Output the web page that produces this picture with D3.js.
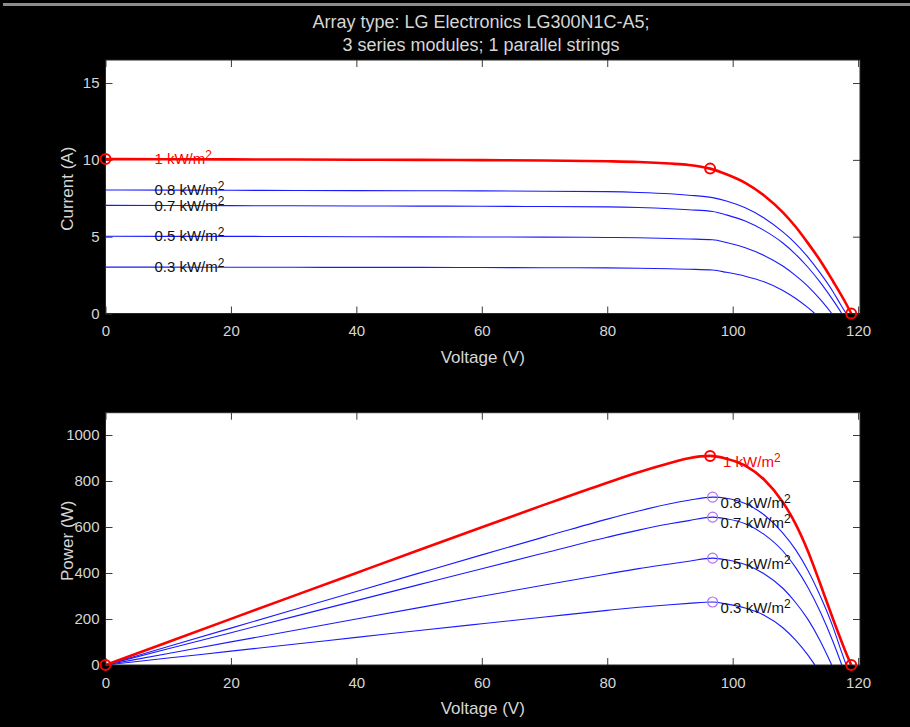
<!DOCTYPE html>
<html><head><meta charset="utf-8">
<script src="https://cdn.jsdelivr.net/npm/d3@7"></script>
<style>body{margin:0;background:#000;} svg{display:block;}</style>
</head><body>
<svg id="chart" width="910" height="727"></svg>
<script>
// ---------- data ----------
const titleLines = ["Array type: LG Electronics LG300N1C-A5;", "3 series modules; 1 parallel strings"];
const seriesNames = ["1", "0.8", "0.7", "0.5", "0.3"];

const voltage1000 = [0,10,20,30,40,50,60,70,80,85,90,93,96.4,99,102,105,108,110,112,114,116,118,118.9];
const current1000 = [10.05,10.04,10.03,10.02,10.01,10.00,9.98,9.96,9.91,9.86,9.76,9.67,9.43,9.06,8.50,7.68,6.58,5.66,4.58,3.42,2.10,0.70,0];
const power1000   = [0,100.4,200.6,300.6,400.4,500,598.8,697.2,792.8,838.1,878.4,899.3,909.1,896.9,867,806.4,708,615,495,350,200,58,0];

const voltage800 = [0,10,20,30,40,50,60,70,80,85,90,93,96.8,99,102,105,108,110,112,114,116,117.2,118.1];
const current800 = [8.04,8.03,8.02,8.01,8.00,7.99,7.98,7.96,7.93,7.88,7.79,7.70,7.54,7.32,6.88,6.22,5.31,4.57,3.67,2.61,1.42,0.59,0];
const power800   = [0,80.3,160.4,240.3,320,399.5,478.8,557.2,634.4,669.8,701.1,716.1,729.9,724.7,701.8,653.1,573.5,502.7,411.0,297.5,164.7,69.1,0];

const voltage700 = [0,10,20,30,40,50,60,70,80,85,90,93,96.8,99,102,105,108,110,112,114,116,117.4];
const current700 = [7.04,7.03,7.02,7.01,7.00,6.99,6.98,6.96,6.94,6.90,6.82,6.75,6.64,6.42,6.02,5.41,4.59,3.87,3.01,2.01,0.87,0];
const power700   = [0,70.3,140.4,210.3,280,349.5,418.8,487.2,555.2,586.5,613.8,627.8,642.8,635.6,614.0,568.1,495.7,425.7,337.1,229.1,100.9,0];

const voltage500 = [0,10,20,30,40,50,60,70,80,85,90,93,96.8,99,102,105,108,110,112,114,115.8];
const current500 = [5.03,5.02,5.02,5.01,5.00,4.99,4.98,4.97,4.95,4.93,4.88,4.85,4.80,4.62,4.28,3.78,3.09,2.48,1.77,0.90,0];
const power500   = [0,50.2,100.4,150.3,200,249.5,298.8,347.9,396,419.1,439.2,451.1,464.6,457.4,436.6,396.9,333.7,272.8,198.2,102.6,0];

const voltage300 = [0,10,20,30,40,50,60,70,80,85,90,93,96.8,99,102,105,108,110,112,113.1];
const current300 = [3.02,3.02,3.01,3.01,3.00,3.00,2.99,2.98,2.97,2.95,2.91,2.88,2.83,2.68,2.43,2.06,1.50,0.99,0.38,0];
const power300   = [0,30.2,60.2,90.3,120,150,179.4,208.6,237.6,250.8,261.9,267.8,273.9,265.3,247.9,216.3,162,108.9,42.6,0];

const voltageTicks = [0,20,40,60,80,100,120];
const currentTicks = [0,5,10,15];
const powerTicks = [0,200,400,600,800,1000];
const xLabel = "Voltage (V)";
const currentLabel = "Current (A)";
const powerLabel = "Power (W)";
const unitText = "kW/m";

// ---------- layout ----------
const svg = d3.select("#chart");
const L = 105.5, R = 860;
const T1 = 60, B1 = 313.5, T2 = 412.7, B2 = 665;
const FONT = "'Liberation Sans', Arial, Helvetica, sans-serif";
const LABEL_GRAY = "#d6d6d6";

svg.append("rect").attr("width", 910).attr("height", 727).attr("fill", "#000");
svg.append("rect").attr("x", 3).attr("y", 3).attr("width", 907).attr("height", 3).attr("fill", "#8c8c8c");

const x = d3.scaleLinear().domain([0, 120.3]).range([L, R]);
const yI = d3.scaleLinear().domain([0, 16.5]).range([B1, T1]);
const yP = d3.scaleLinear().domain([0, 1097]).range([B2, T2]);

const series = [
  {name: seriesNames[0], v: voltage1000, i: current1000, p: power1000, main: true},
  {name: seriesNames[1], v: voltage800, i: current800, p: power800},
  {name: seriesNames[2], v: voltage700, i: current700, p: power700},
  {name: seriesNames[3], v: voltage500, i: current500, p: power500},
  {name: seriesNames[4], v: voltage300, i: current300, p: power300}
];

// title
svg.append("g").selectAll("text").data(titleLines).join("text")
  .attr("x", 481).attr("y", (d, k) => 28 + k * 23)
  .attr("text-anchor", "middle").attr("fill", LABEL_GRAY)
  .style("font-family", FONT).style("font-size", "18px").text(d => d);

function drawPanel(yScale, top, bottom, yTicks, yLab, key) {
  const g = svg.append("g");
  g.append("rect").attr("x", L).attr("y", top).attr("width", R - L).attr("height", bottom - top)
    .attr("fill", "#fff");

  const styleAxis = (sel, showText) => {
    sel.select(".domain").remove();
    sel.selectAll(".tick line").attr("stroke", "#3a3a3a").attr("stroke-width", 1);
    sel.selectAll(".tick text").attr("fill", LABEL_GRAY).style("font-family", FONT).style("font-size", "15px");
    if (!showText) sel.selectAll(".tick text").remove();
  };
  const fmt = d3.format("d");
  g.append("g").attr("transform", `translate(0,${bottom})`)
    .call(d3.axisBottom(x).tickValues(voltageTicks).tickFormat(fmt).tickSizeInner(-7).tickSizeOuter(0).tickPadding(12))
    .call(s => styleAxis(s, true));
  g.append("g").attr("transform", `translate(0,${top})`)
    .call(d3.axisTop(x).tickValues(voltageTicks).tickSizeInner(-7).tickSizeOuter(0))
    .call(s => styleAxis(s, false));
  g.append("g").attr("transform", `translate(${L},0)`)
    .call(d3.axisLeft(yScale).tickValues(yTicks).tickFormat(fmt).tickSizeInner(-7).tickSizeOuter(0).tickPadding(6))
    .call(s => styleAxis(s, true));
  g.append("g").attr("transform", `translate(${R},0)`)
    .call(d3.axisRight(yScale).tickValues(yTicks).tickSizeInner(-7).tickSizeOuter(0))
    .call(s => styleAxis(s, false));

  // curves
  const line = d3.line().x(d => x(d[0])).y(d => yScale(d[1])).curve(d3.curveMonotoneX);
  const ordered = series.slice(1).concat([series[0]]);
  ordered.forEach(s => {
    const pts = s.v.map((v, k) => [v, s[key][k]]);
    g.append("path").attr("d", line(pts)).attr("fill", "none")
      .attr("stroke", s.main ? "#ff0000" : "#1a1aff")
      .attr("stroke-width", s.main ? 2.6 : 1.1)
      .attr("stroke-linejoin", "round");
  });

  // frame
  g.append("rect").attr("x", L).attr("y", top).attr("width", R - L).attr("height", bottom - top)
    .attr("fill", "none").attr("stroke", "#262626").attr("stroke-width", 1);

  // axis labels
  svg.append("text").attr("x", (L + R) / 2).attr("y", bottom + 49)
    .attr("text-anchor", "middle").attr("fill", LABEL_GRAY)
    .style("font-family", FONT).style("font-size", "17px").text(xLabel);
  svg.append("text").attr("transform", `translate(73,${(top + bottom) / 2 + 2}) rotate(-90)`)
    .attr("text-anchor", "middle").attr("fill", LABEL_GRAY)
    .style("font-family", FONT).style("font-size", "17px").text(yLab);
  return g;
}

function addLabel(g, px, py, s) {
  const t = g.append("text").attr("x", px).attr("y", py).attr("dy", "0.35em")
    .attr("fill", s.main ? "#ff0000" : "#111")
    .style("font-family", FONT).style("font-size", "15px");
  t.append("tspan").text(s.name + " " + unitText);
  t.append("tspan").attr("dy", "-0.45em").style("font-size", "12px").text("2");
}

function marker(g, cx, cy, color, w) {
  g.append("circle").attr("cx", cx).attr("cy", cy).attr("r", 5)
    .attr("fill", "none").attr("stroke", color).attr("stroke-width", w);
}

// ---------- top panel: I-V ----------
const gTop = drawPanel(yI, T1, B1, currentTicks, currentLabel, "i");
series.forEach(s => addLabel(gTop, x(7.8), yI(s.i[0]), s));
{
  const s = series[0];
  const k = d3.maxIndex(s.p);
  marker(gTop, x(s.v[0]), yI(s.i[0]), "#ff0000", 2);
  marker(gTop, x(s.v[k]), yI(s.i[k]), "#ff0000", 2);
  marker(gTop, x(s.v[s.v.length - 1]), yI(s.i[s.i.length - 1]), "#ff0000", 2);
}

// ---------- bottom panel: P-V ----------
const gBot = drawPanel(yP, T2, B2, powerTicks, powerLabel, "p");
series.forEach(s => {
  const k = d3.maxIndex(s.p);
  marker(gBot, x(s.v[k]), yP(s.p[k]), s.main ? "#ff0000" : "#b86cf0", s.main ? 2 : 1.2);
  addLabel(gBot, x(s.v[k]) + (s.main ? 13 : 8), yP(s.p[k]) + 6, s);
});
{
  const s = series[0];
  marker(gBot, x(s.v[0]), yP(s.p[0]), "#ff0000", 2);
  marker(gBot, x(s.v[s.v.length - 1]), yP(s.p[s.p.length - 1]), "#ff0000", 2);
}
</script>
</body></html>
